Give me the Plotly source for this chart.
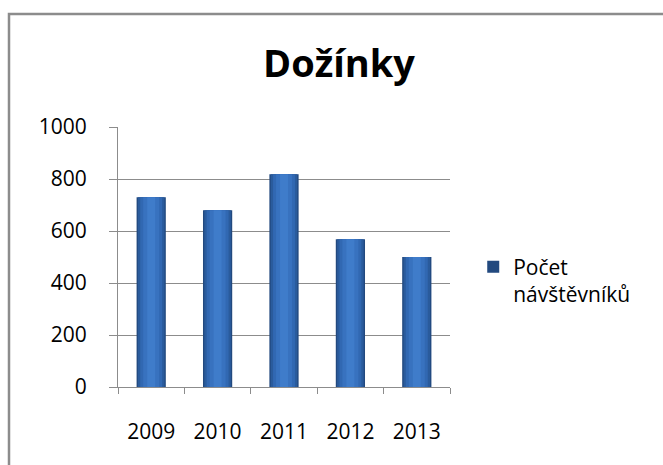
import plotly.graph_objects as go

years = ["2009", "2010", "2011", "2012", "2013"]
visitors = [730, 680, 818, 568, 500]
series_name = "Počet<br>návštěvníků"
title_text = "Dožínky"
y_ticks = [0, 200, 400, 600, 800, 1000]

FONT = "Open Sans"
fig = go.Figure()

# layered bars to imitate the cylinder-like gradient shading
layers = [
    (0.44, "#22497f", True),
    (0.40, "#2a5b9c", False),
    (0.33, "#3168b2", False),
    (0.24, "#3872bf", False),
    (0.12, "#3f7cca", False),
]
for w, col, show in layers:
    fig.add_trace(go.Bar(
        x=years, y=visitors, width=w,
        marker=dict(color=col, line=dict(width=0)),
        name=series_name, showlegend=show, hoverinfo="skip" if not show else None,
    ))

fig.update_layout(
    width=663, height=465,
    margin=dict(l=118, r=213, t=127, b=78),
    paper_bgcolor="white", plot_bgcolor="white",
    barmode="overlay",
    font=dict(family=FONT, size=22, color="#000000"),
    title=dict(text=f"<b>{title_text}</b>", x=339/663, xanchor="center",
               xref="container", y=1 - 64/465, yanchor="middle", yref="container",
               font=dict(family=FONT, size=38, color="#000000")),
    showlegend=True,
    legend=dict(x=1.07, xanchor="left", y=0.54, yanchor="top",
                valign="top", font=dict(family=FONT, size=21, color="#000000"),
                bgcolor="rgba(0,0,0,0)", itemwidth=30, tracegroupgap=0),
    shapes=[dict(type="rect", xref="paper", yref="paper",
                 x0=(9 - 118) / 332, x1=1.8, y0=-0.6, y1=(387 - 14) / 260,
                 line=dict(color="#8c8c8c", width=2.5), fillcolor="rgba(0,0,0,0)",
                 layer="below")],
)

fig.update_xaxes(
    type="category", showline=True, linecolor="#8c8c8c", linewidth=1,
    ticks="outside", tickson="boundaries", ticklen=6, tickcolor="#8c8c8c",
    showgrid=False, tickfont=dict(family=FONT, size=21), ticklabelstandoff=26,
)
fig.update_yaxes(
    range=[0, 1000], tickvals=y_ticks, showline=True, linecolor="#8c8c8c",
    linewidth=1, ticks="outside", ticklen=8, tickcolor="#8c8c8c",
    showgrid=True, gridcolor="#8c8c8c", gridwidth=1, zeroline=False,
    tickfont=dict(family=FONT, size=21), ticklabelstandoff=18,
)

fig.write_html("out.html", config={"displayModeBar": False},
               post_script="document.body.style.margin='0';document.body.style.overflow='hidden';")
